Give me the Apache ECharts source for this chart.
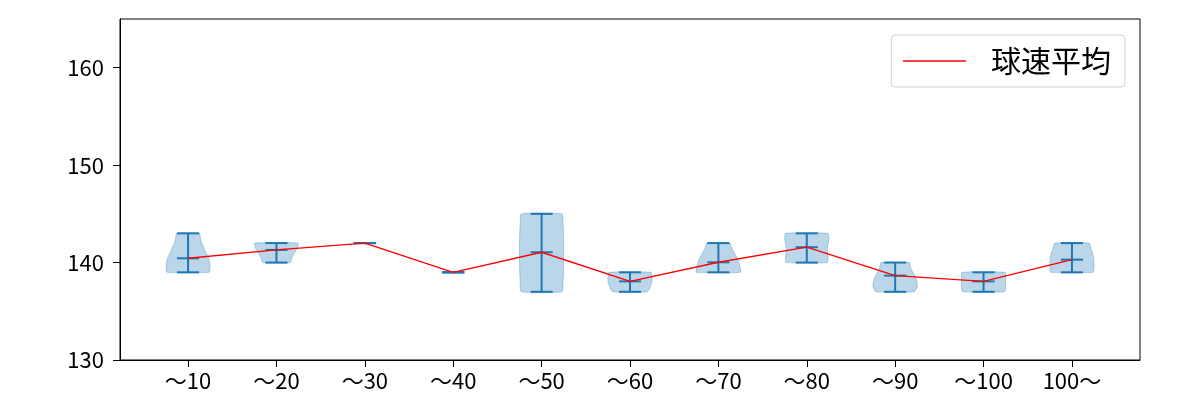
<!DOCTYPE html>
<html>
<head>
<meta charset="utf-8">
<script src="https://cdn.jsdelivr.net/npm/echarts@6/dist/echarts.min.js"></script>
<style>html,body{margin:0;padding:0;background:#fff}#c{width:1200px;height:400px}</style>
</head>
<body>
<div id="c"></div>
<script>
// ---- data ----
const categories = ['〜10','〜20','〜30','〜40','〜50','〜60','〜70','〜80','〜90','〜100','100〜'];
const mins  = [139, 140, 142, 139, 137, 137, 139, 140, 137, 137, 139];
const maxs  = [143, 142, 142, 139, 145, 139, 142, 143, 140, 139, 142];
const means = [140.44, 141.3, 142.0, 139.0, 141.06, 138.07, 140.03, 141.58, 138.66, 138.07, 140.3];
// relative violin widths, evenly spaced from min (first) to max (last)
const shape10  = [0.95, 1.0, 0.98, 0.92, 0.82, 0.72, 0.62, 0.56, 0.52];
const shape20  = [0.62, 0.70, 0.82, 0.95, 0.98];
const shape30  = [];
const shape40  = [];
const shape50  = [0.92, 0.97, 0.99, 1.0, 1.0, 1.0, 0.99, 0.97, 0.92];
const shape60  = [0.78, 0.92, 0.99, 1.0, 0.95];
const shape70  = [1.0, 0.99, 0.93, 0.84, 0.72, 0.60, 0.52];
const shape80  = [0.93, 0.97, 0.94, 0.93, 0.97, 1.0, 0.96];
const shape90  = [0.86, 1.0, 0.99, 0.92, 0.80, 0.70, 0.64];
const shape100 = [0.95, 1.0, 1.0, 1.0, 0.98];
const shape100p = [0.96, 1.0, 1.0, 0.98, 0.93, 0.85, 0.78];
const shapes = [shape10, shape20, shape30, shape40, shape50, shape60, shape70, shape80, shape90, shape100, shape100p];
const yTicks = [130, 140, 150, 160];
const legendName = '球速平均';

// ---- chart ----
const positions = categories.map((c, i) => i + 1);
const HALF = 0.25, CAP = 0.125;
const FONT = '"Noto Sans CJK JP", "Noto Sans", sans-serif';
const chart = echarts.init(document.getElementById('c'), null, {renderer: 'canvas'});

function renderViolin(params, api) {
  const i = params.dataIndex;
  const x = positions[i];
  const lo = mins[i], hi = maxs[i], prof = shapes[i];
  const children = [];
  if (prof.length > 1) {
    const n = prof.length, left = [], right = [];
    for (let k = 0; k < n; k++) {
      const v = lo + (hi - lo) * k / (n - 1);
      const w = prof[k] * HALF;
      left.push(api.coord([x - w, v]));
      right.push(api.coord([x + w, v]));
    }
    const pts = left.concat(right.reverse());
    children.push({type: 'polygon', shape: {points: pts, smooth: 0.15},
      style: {fill: 'rgba(31,119,180,0.3)', stroke: 'rgba(31,119,180,0.3)', lineWidth: 1}});
  }
  const seg = (x1, y1, x2, y2) => {
    const a = api.coord([x1, y1]), b = api.coord([x2, y2]);
    return {type: 'line', shape: {x1: a[0], y1: a[1], x2: b[0], y2: b[1]},
      style: {stroke: '#1f77b4', lineWidth: 2}};
  };
  children.push(seg(x, lo, x, hi));
  children.push(seg(x - CAP, lo, x + CAP, lo));
  children.push(seg(x - CAP, hi, x + CAP, hi));
  children.push(seg(x - CAP, means[i], x + CAP, means[i]));
  return {type: 'group', children};
}

chart.setOption({
  animation: false,
  backgroundColor: '#fff',
  textStyle: {fontFamily: FONT},
  grid: {left: 120, right: 60, top: 19, bottom: 40, show: true, borderColor: '#000', borderWidth: 1, backgroundColor: '#fff'},
  legend: {
    right: 75, top: 35,
    padding: [11, 14, 11, 11],
    borderColor: '#d0d0d0', borderWidth: 1, borderRadius: 4,
    itemWidth: 63, itemHeight: 14,
    itemStyle: {color: 'rgba(0,0,0,0)', borderWidth: 0, opacity: 0},
    lineStyle: {color: '#ff0000', width: 1.4, opacity: 1},
    textStyle: {fontSize: 30, color: '#000', fontFamily: FONT, padding: [0, 0, 0, 20]},
    data: [{name: legendName}]
  },
  xAxis: {
    type: 'value', min: 0.23, max: 11.77,
    splitLine: {show: false},
    axisLine: {lineStyle: {color: '#000', width: 1}},
    axisTick: {show: true, length: 7, lineStyle: {color: '#000'}, customValues: positions},
    axisLabel: {customValues: positions, fontSize: 22, color: '#000', margin: 10, fontFamily: FONT,
      formatter: v => categories[Math.round(v) - 1] || ''}
  },
  yAxis: {
    type: 'value', min: 130, max: 165,
    splitLine: {show: false},
    axisLine: {show: true, lineStyle: {color: '#000', width: 1}},
    axisTick: {show: true, length: 7, lineStyle: {color: '#000'}, customValues: yTicks},
    axisLabel: {customValues: yTicks, fontSize: 22, color: '#000', margin: 16, fontFamily: FONT}
  },
  series: [
    {
      type: 'custom',
      renderItem: renderViolin,
      data: positions.map((p, i) => [p, mins[i], maxs[i]]),
      encode: {x: 0, y: [1, 2]},
      z: 2
    },
    {
      name: legendName,
      type: 'line',
      data: positions.map((p, i) => [p, means[i]]),
      symbol: 'none',
      lineStyle: {color: '#ff0000', width: 1.4},
      itemStyle: {color: '#ff0000'},
      z: 5
    }
  ]
});
</script>
</body>
</html>
